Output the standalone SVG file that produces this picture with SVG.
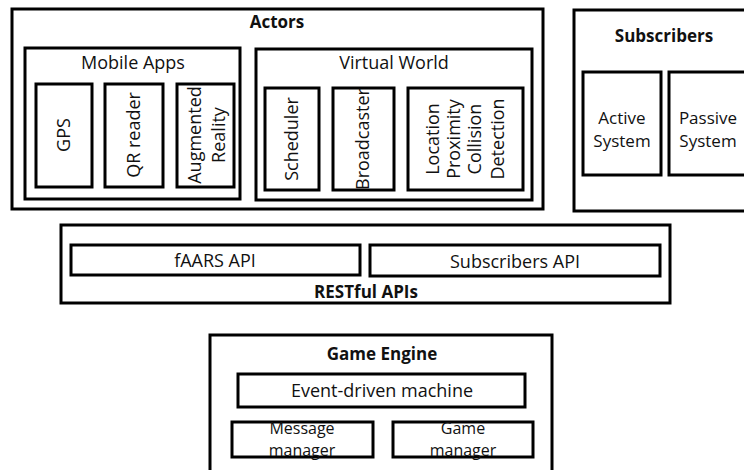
<svg xmlns="http://www.w3.org/2000/svg" width="744" height="470" viewBox="0 0 744 470">
<style>
rect{fill:#fff;stroke:#000;stroke-width:3}
rect.bg{stroke:none}
text{font-family:"Open Sans","Noto Sans",sans-serif;fill:#111;text-anchor:middle}
.t{font-size:17px;font-weight:bold}
.l{font-size:18px}
.s{font-size:16px}
.a{font-size:17px}
</style>
<rect class="bg" width="744" height="470"/>
<g id="actors">
<rect x="12" y="9" width="531" height="200"/>
<text class="t" x="277" y="28">Actors</text>
</g>
<g id="mobile-apps">
<rect x="25" y="48" width="215" height="151"/>
<text class="l" x="133" y="69">Mobile Apps</text>
</g>
<g id="gps"><rect x="36" y="84" width="56" height="103"/><text class="l" transform="translate(64,135) rotate(-90)" dy="6">GPS</text></g>
<g id="qr"><rect x="105" y="84" width="58" height="103"/><text class="l" transform="translate(134,135) rotate(-90)" dy="6">QR reader</text></g>
<g id="ar"><rect x="177" y="84" width="57" height="103"/><text class="l" transform="translate(195,135) rotate(-90)" dy="6">Augmented</text><text class="l" transform="translate(219,135) rotate(-90)" dy="6">Reality</text></g>
<g id="virtual-world">
<rect x="256" y="49" width="276" height="151"/>
<text class="l" x="394" y="69">Virtual World</text>
</g>
<g id="scheduler"><rect x="265" y="88" width="54" height="102"/><text class="l" transform="translate(292,139) rotate(-90)" dy="6">Scheduler</text></g>
<g id="broadcaster"><rect x="333" y="88" width="61" height="102"/><text class="l" transform="translate(363,139) rotate(-90)" dy="6">Broadcaster</text></g>
<g id="detection"><rect x="408" y="88" width="115" height="102"/>
<text class="l" transform="translate(433,139) rotate(-90)" dy="6">Location</text>
<text class="l" transform="translate(454,139) rotate(-90)" dy="6">Proximity</text>
<text class="l" transform="translate(475,139) rotate(-90)" dy="6">Collision</text>
<text class="l" transform="translate(498,139) rotate(-90)" dy="6">Detection</text>
</g>
<g id="subscribers">
<rect x="574" y="10" width="180" height="201"/>
<text class="t" x="664" y="42">Subscribers</text>
</g>
<g id="active"><rect x="583" y="72" width="78" height="103"/><text class="a" x="622" y="124">Active</text><text class="a" x="622" y="147">System</text></g>
<g id="passive"><rect x="669" y="72" width="85" height="103"/><text class="a" x="708" y="124">Passive</text><text class="a" x="708" y="147">System</text></g>
<g id="restful">
<rect x="61" y="225" width="609" height="78"/>
<text class="t" x="366" y="298">RESTful APIs</text>
</g>
<g id="faars-api"><rect x="71" y="245" width="289" height="30"/><text class="l" x="215" y="267">fAARS API</text></g>
<g id="subscribers-api"><rect x="370" y="245" width="290" height="31"/><text class="l" x="515" y="268">Subscribers API</text></g>
<g id="game-engine">
<rect x="210" y="335" width="342" height="145"/>
<text class="t" x="382" y="360">Game Engine</text>
</g>
<g id="event-machine"><rect x="238" y="374" width="287" height="33"/><text class="l" x="382" y="397">Event-driven machine</text></g>
<g id="message-manager"><rect x="232" y="422" width="141" height="35"/><text class="s" x="302" y="434">Message</text><text class="s" x="302" y="456">manager</text></g>
<g id="game-manager"><rect x="393" y="422" width="140" height="35"/><text class="s" x="463" y="434">Game</text><text class="s" x="463" y="456">manager</text></g>
<g id="connectors"></g>
</svg>
